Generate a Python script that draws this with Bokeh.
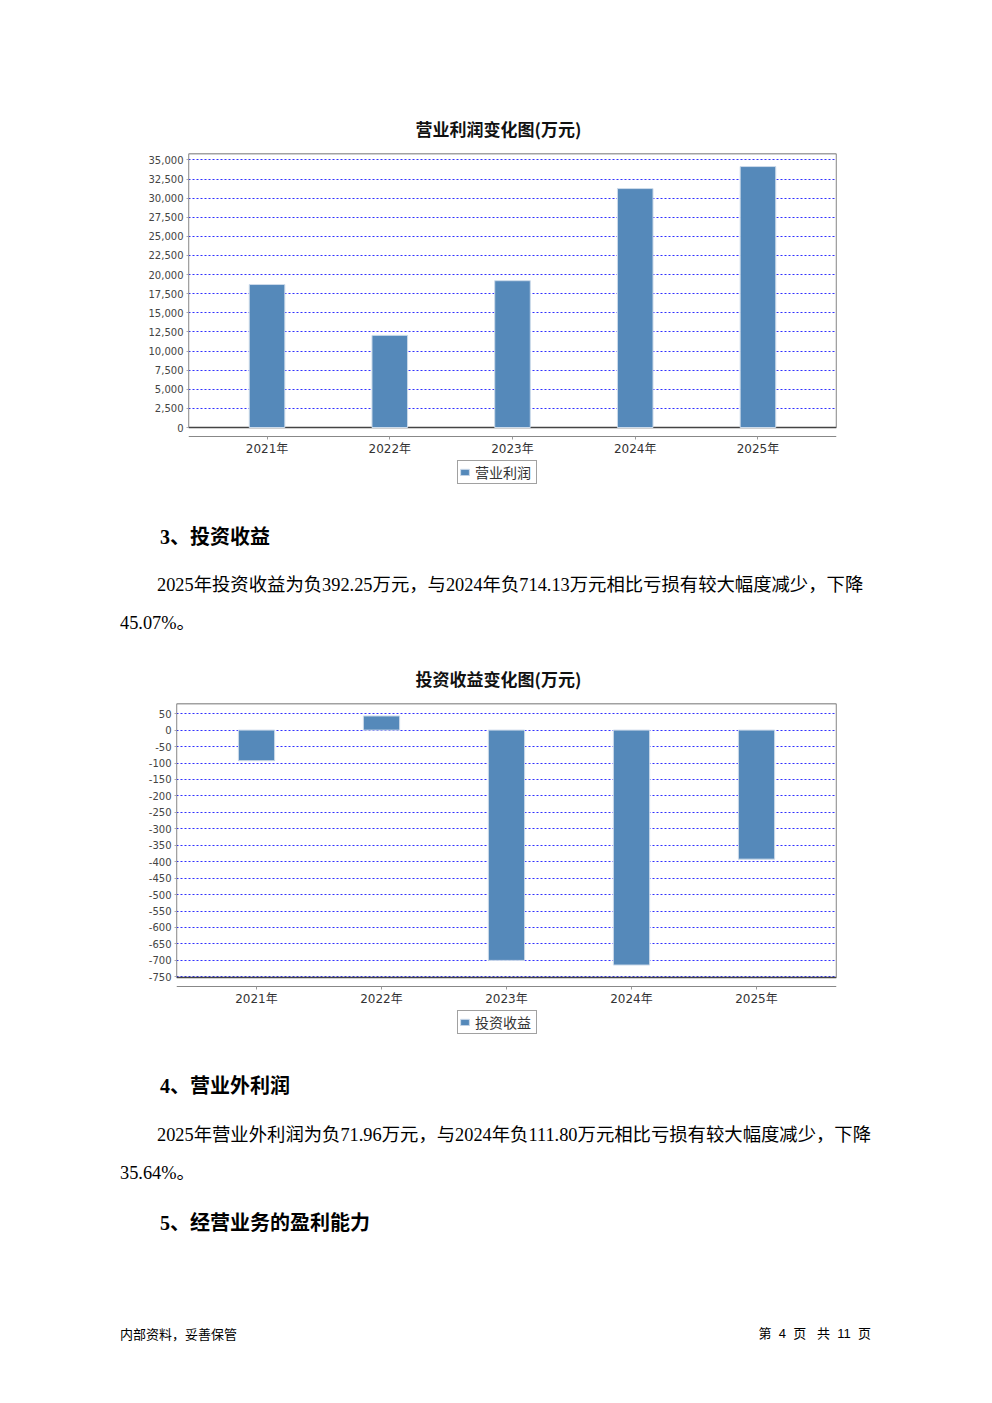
from bokeh.plotting import figure
from bokeh.models import (Range1d, FactorRange, FixedTicker, NumeralTickFormatter,
                          BoxAnnotation, Legend, LegendItem, Div, ColumnDataSource)
from bokeh.layouts import column
from bokeh.embed import file_html
from bokeh.resources import INLINE

# ---------------- data ----------------
years = ["2021年", "2022年", "2023年", "2024年", "2025年"]
op_profit = [18700, 12050, 19200, 31250, 34130]          # 营业利润 (万元)
inv_income = [-93, 43, -700, -714.13, -392.25]           # 投资收益 (万元)

chart1_title = "营业利润变化图(万元)"
chart1_label = "营业利润"
chart2_title = "投资收益变化图(万元)"
chart2_label = "投资收益"

BAR = "#5589BA"
CJK = "Noto Sans CJK SC"
TICKF = "DejaVu Sans"

PLOT_H = 274      # pixel height of the value area
AXIS_GAP = 9      # gap between value area and category axis
BELOW_H = 59      # value-area bottom to legend bottom (+2)


def make_chart(title, label, values, step, frame_w, bl, br, bt, bb, title_off, legend_x):
    vmin = min(0, min(values))
    vmax = max(0, max(values))
    span = vmax - vmin
    hi = vmax + 0.05 * span
    lo = 0 if vmin == 0 else vmin - 0.05 * span
    upp = (hi - lo) / PLOT_H                      # units per pixel
    frame_h = PLOT_H + BELOW_H
    height = bt + frame_h + bb
    axis_y = lo - AXIS_GAP * upp
    start = lo - BELOW_H * upp

    first = int(-(-lo // step)) * step if lo < 0 else 0
    ticks = []
    t = first
    while t <= hi:
        ticks.append(t)
        t += step

    src = ColumnDataSource(dict(x=years, top=values))
    p = figure(frame_width=frame_w, frame_height=frame_h, output_backend="svg", toolbar_location=None,
               x_range=FactorRange(factors=years, range_padding=0.14, range_padding_units="absolute"),
               y_range=Range1d(start, hi),
               min_border_left=bl, min_border_right=br, min_border_top=bt, min_border_bottom=bb,
               title=title, margin=0)
    p.frame_align = False
    p.title.align = "left"
    p.title.offset = title_off
    p.title.text_font = CJK
    p.title.text_font_size = "17px"
    p.title.text_font_style = "bold"
    p.title.text_color = "#111111"
    p.title.standoff = 26

    p.outline_line_color = None
    p.background_fill_color = "white"
    p.border_fill_color = "white"

    box = BoxAnnotation(bottom=lo, top=hi, fill_alpha=0, line_color="#444444", line_alpha=1.0,
                        line_width=1.3, level="underlay")
    p.add_layout(box)

    r = p.vbar(x="x", top="top", bottom=0, width=0.29, source=src,
               fill_color=BAR, line_color="#cddbea", line_width=1)

    p.xgrid.grid_line_color = None
    p.ygrid.grid_line_color = "#3030ff"
    p.ygrid.grid_line_dash = "2 2"
    p.ygrid.grid_line_width = 1

    ya = p.yaxis[0]
    ya.ticker = FixedTicker(ticks=ticks)
    ya.formatter = NumeralTickFormatter(format="0,0")
    ya.axis_line_color = None
    ya.major_tick_in = 0
    ya.major_tick_out = 2
    ya.major_tick_line_color = "#aaaaaa"
    ya.minor_tick_line_color = None
    ya.major_label_text_font = TICKF
    ya.major_label_text_font_size = "10px"
    ya.major_label_text_color = "#444444"
    ya.major_label_standoff = 3

    xa = p.xaxis[0]
    xa.fixed_location = axis_y
    xa.axis_line_color = "#888888"
    xa.axis_line_width = 1
    xa.major_tick_in = 0
    xa.major_tick_out = 3
    xa.major_tick_line_color = "#999999"
    xa.major_label_text_font = TICKF + ", " + CJK
    xa.major_label_text_font_size = "12px"
    xa.major_label_text_color = "#333333"
    xa.major_label_standoff = 2

    leg = Legend(items=[LegendItem(label=label, renderers=[r])], location=(legend_x, 2),
                 orientation="horizontal", margin=0, padding=1, spacing=0,
                 glyph_width=11, glyph_height=8, label_standoff=5, label_width=60, label_height=14,
                 label_text_font=CJK, label_text_font_size="14px", label_text_color="#333333",
                 border_line_color="#444444", border_line_width=1, background_fill_color="white")
    p.add_layout(leg)
    return p, height


# chart 1: figure top at page y 8 (frame 188..836), chart 2 at page y 650 (frame 176..836)
p1, h1 = make_chart(chart1_title, chart1_label, op_profit, 2500, 648, 180, 148, 145, 40, 227, 269)
p2, h2 = make_chart(chart2_title, chart2_label, inv_income, 50, 660, 168, 148, 52, 40, 239, 281)

BODY = "'Liberation Serif', 'Noto Sans CJK SC', serif"
HEAD = "'Liberation Serif', 'Noto Sans CJK SC', serif"


def heading(text, top):
    return (f'<div style="position:absolute;left:152px;top:{top}px;font-family:{HEAD};'
            f'font-weight:bold;font-size:20px;line-height:20px;white-space:nowrap;color:#000;">{text}</div>')


def para(line1, line2, top):
    return (f'<div style="position:absolute;left:112px;top:{top}px;font-family:{BODY};'
            f'font-size:18.35px;line-height:38px;white-space:nowrap;color:#000;">'
            f'<span style="padding-left:37px">{line1}</span><br>{line2}</div>')


H1 = 650 - (8 + h1)
html1 = (f'<div style="position:relative;width:976px;height:{H1}px;">'
         + heading("3、投资收益", 537 - 10 - (8 + h1))
         + para("2025年投资收益为负392.25万元，与2024年负714.13万元相比亏损有较大幅度减少，下降",
                "45.07%。", 585 - 19 - (8 + h1))
         + '</div>')

top2 = 650 + h2
html2 = ('<div style="position:relative;width:976px;height:290px;">'
         + heading("4、营业外利润", 1085 - 10 - top2)
         + para("2025年营业外利润为负71.96万元，与2024年负111.80万元相比亏损有较大幅度减少，下降",
                "35.64%。", 1134 - 19 - top2)
         + heading("5、经营业务的盈利能力", 1222 - 10 - top2)
         + f'<div style="position:absolute;left:112px;top:{1333 - 7 - top2}px;font-family:\'Noto Sans CJK SC\';'
           'font-size:13px;line-height:14px;white-space:nowrap;color:#000;">内部资料，妥善保管</div>'
         + f'<div style="position:absolute;left:663px;width:200px;text-align:right;top:{1333 - 7 - top2}px;'
           'font-family:\'Liberation Sans\', \'Noto Sans CJK SC\';font-size:13px;line-height:14px;'
           'white-space:pre;color:#000;">第  4  页   共  11  页</div>'
         + '</div>')

d1 = Div(text=html1, width=976, height=H1, margin=0)
d2 = Div(text=html2, width=976, height=290, margin=0)

layout = column(p1, d1, p2, d2, spacing=0, margin=(8, 0, 0, 8))

open("out.html", "w").write(file_html(layout, INLINE))
